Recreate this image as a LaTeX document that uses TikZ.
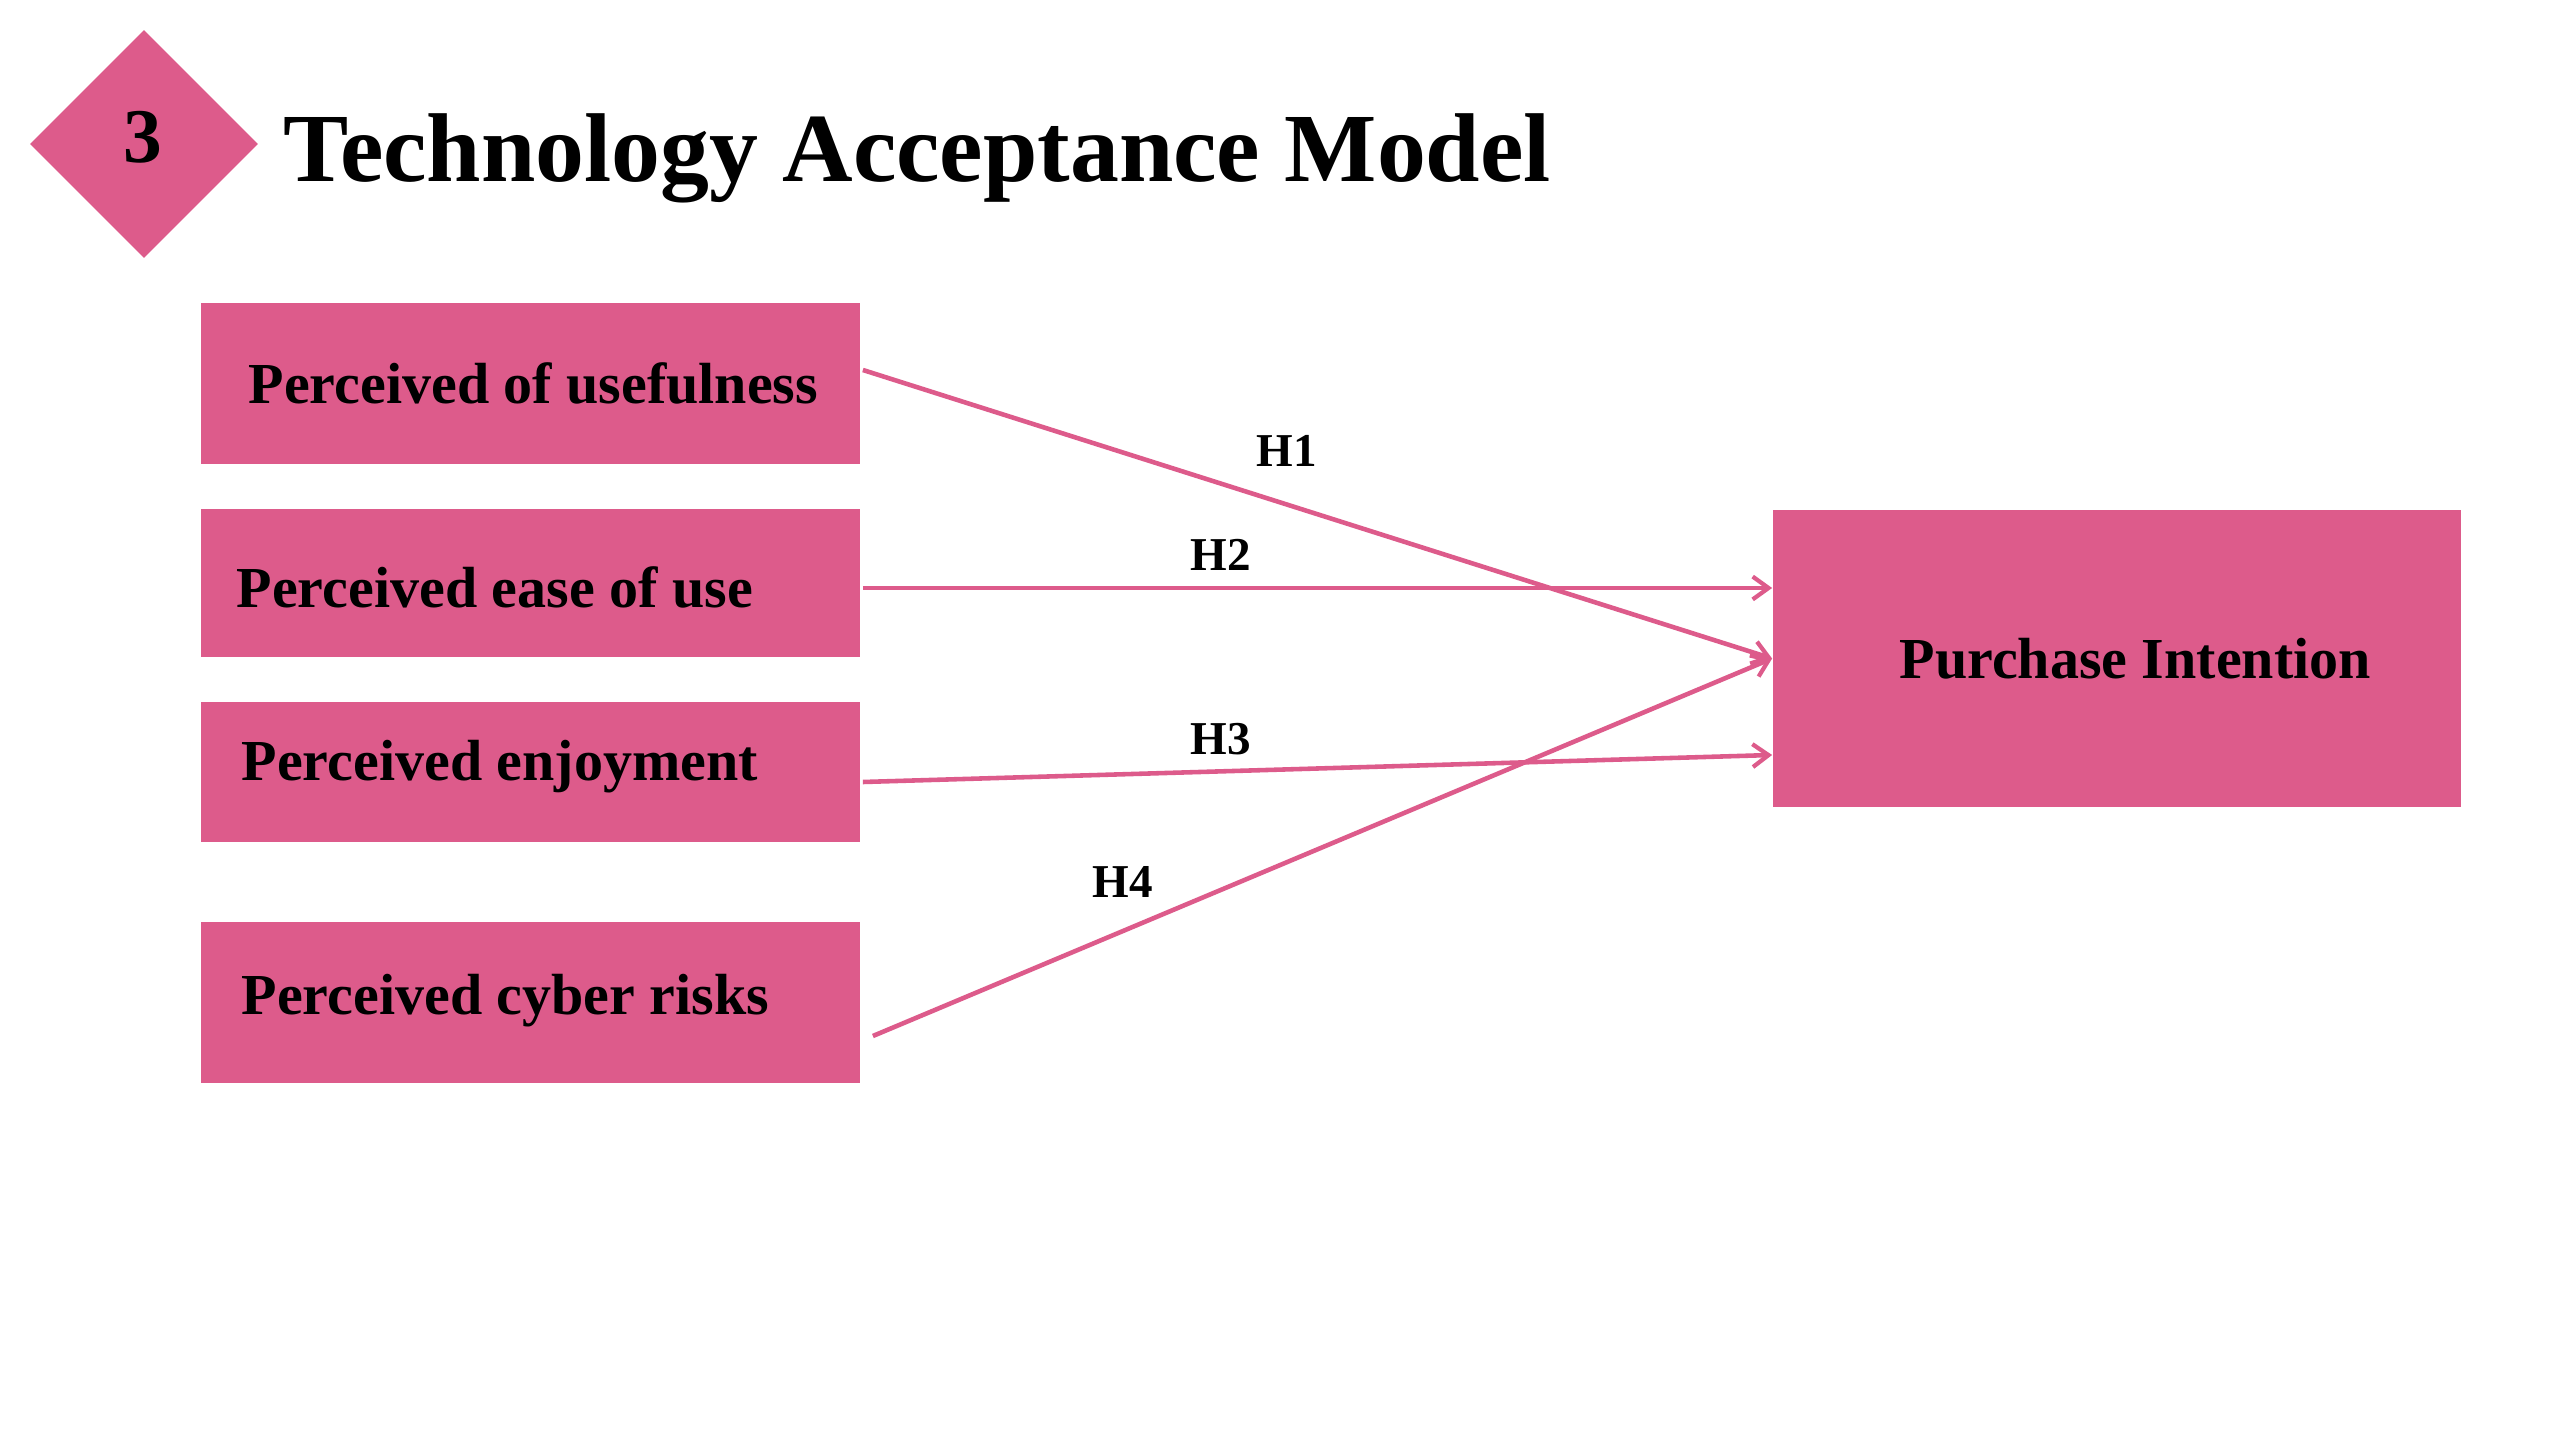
\documentclass[tikz,border=0pt]{standalone}
\usepackage{fontspec}
\setmainfont{Liberation Serif}
\usetikzlibrary{shapes.geometric,arrows.meta,calc}
\definecolor{tampink}{RGB}{221,91,139}
\begin{document}
\begin{tikzpicture}[x=0.01cm,y=-0.01cm,
  pinkbox/.style={rectangle,fill=tampink,draw=none,inner sep=0pt},
  boxtext/.style={inner sep=0pt,anchor=base west,font=\fontsize{16.5}{20}\selectfont\bfseries},
  hlabel/.style={inner sep=0pt,font=\fontsize{13.4}{16}\selectfont\bfseries},
  link/.style={draw=tampink,line width=1.3pt,-{Straight Barb[length=4.5pt,width=6.5pt,line width=1.2pt]}}]
\useasboundingbox (0,0) rectangle (2560,1440);
\fill[white] (0,0) rectangle (2560,1440);
% title
\node[diamond,fill=tampink,draw=none,inner sep=0pt,minimum width=2.28cm,minimum height=2.28cm] (dia) at (144,144) {};
\node[inner sep=0pt,anchor=base,font=\fontsize{22}{26}\selectfont\bfseries] (num) at (143,163) {3};
\node[inner sep=0pt,anchor=base west,font=\fontsize{27.8}{32}\selectfont\bfseries] (title) at (283,182) {Technology Acceptance Model};
% boxes
\node[pinkbox,minimum width=6.59cm,minimum height=1.61cm] (b1) at (530.5,383.5) {};
\node[pinkbox,minimum width=6.59cm,minimum height=1.48cm] (b2) at (530.5,583) {};
\node[pinkbox,minimum width=6.59cm,minimum height=1.40cm] (b3) at (530.5,772) {};
\node[pinkbox,minimum width=6.59cm,minimum height=1.61cm] (b4) at (530.5,1002.5) {};
\node[pinkbox,minimum width=6.88cm,minimum height=2.97cm] (pi) at (2117,658.5) {};
\node[boxtext] (t1) at (248,404) {Perceived of usefulness};
\node[boxtext] (t2) at (236,608) {Perceived ease of use};
\node[boxtext] (t3) at (241,781) {Perceived enjoyment};
\node[boxtext] (t4) at (241,1014) {Perceived cyber risks};
\node[boxtext] (t5) at (1899,679) {Purchase Intention};
% connectors
\draw[link] ($(b1.east)+(2,-13.5)$) -- (pi.west);
\draw[link] ($(b2.east)+(2,5)$) -- ($(pi.west)+(0,-70.5)$);
\draw[link] ($(b3.east)+(2,10)$) -- ($(pi.west)+(0,96.5)$);
\draw[link] ($(b4.east)+(12,33.5)$) -- (pi.west);
% labels
\node[hlabel] (h1) at (1287,451) {H1};
\node[hlabel] (h2) at (1221,555) {H2};
\node[hlabel] (h3) at (1221,739) {H3};
\node[hlabel] (h4) at (1123,882) {H4};
\end{tikzpicture}
\end{document}
